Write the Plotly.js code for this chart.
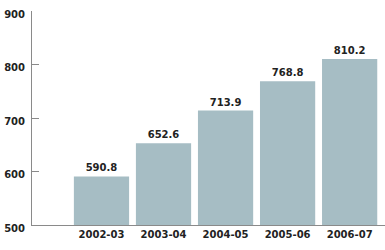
<!DOCTYPE html>
<html><head><meta charset="utf-8">
<script src="https://cdn.plot.ly/plotly-3.0.1.min.js"></script>
<style>html,body{margin:0;padding:0;background:#fff}#chart{width:385px;height:250px}</style>
</head><body><div id="chart"></div>
<script>
const categories = ['2002-03','2003-04','2004-05','2005-06','2006-07'];
const values = [590.8, 652.6, 713.9, 768.8, 810.2];
const yTicks = [500, 600, 700, 800, 900];

const font = {family: 'DejaVu Sans, Verdana, sans-serif', size: 10, color: '#222', weight: 'bold'};
Plotly.newPlot('chart', [{
  type: 'bar', x: categories, y: values,
  marker: {color: '#a6bdc4'},
  text: values.map(v => v.toFixed(1)), textposition: 'outside',
  textfont: font, cliponaxis: false, hoverinfo: 'none'
}], {
  width: 385, height: 250,
  margin: {l: 32, r: 0, t: 11, b: 25},
  paper_bgcolor: '#fff', plot_bgcolor: '#fff',
  bargap: 0.11, showlegend: false,
  xaxis: {type: 'category', range: [-1.12, 4.57], showline: true, linecolor: '#8a8a8a', linewidth: 1,
          ticks: '', showgrid: false, zeroline: false, tickfont: font, fixedrange: true},
  yaxis: {range: [500, 900], tickvals: yTicks, showline: true, linecolor: '#8a8a8a', linewidth: 1,
          ticks: 'inside', ticklen: 7, tickcolor: '#8a8a8a', showgrid: false, zeroline: false,
          tickfont: font, ticklabelshift: 3, ticklabelstandoff: 4, fixedrange: true}
}, {displayModeBar: false, staticPlot: true});
</script></body></html>
